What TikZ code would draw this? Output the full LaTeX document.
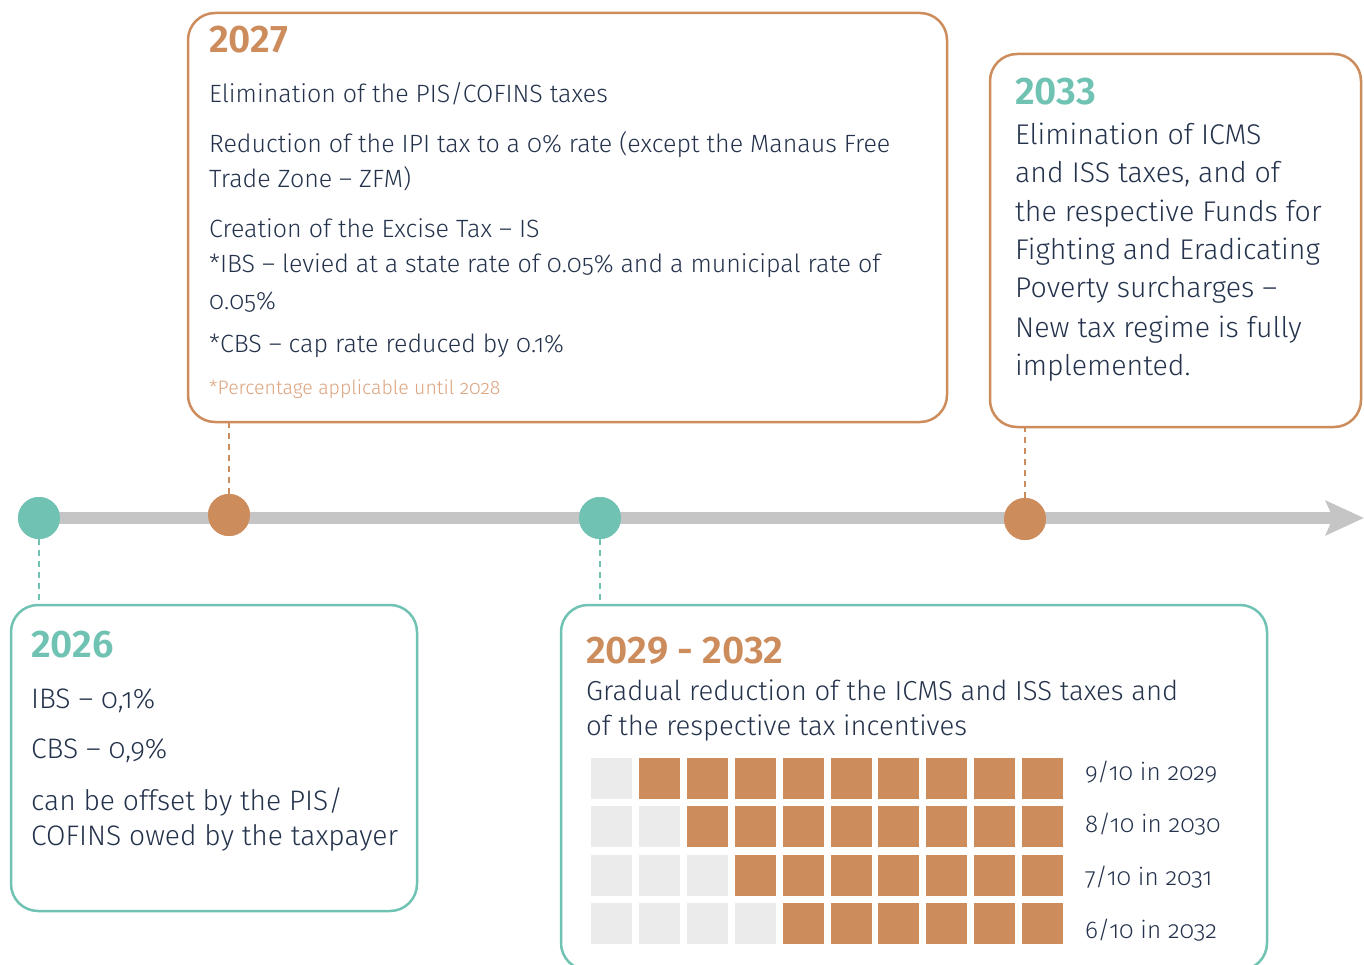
\documentclass[tikz,border=0pt]{standalone}
\usepackage{fontspec}
\setmainfont{Fira Sans Light}[BoldFont={Fira Sans SemiBold}, Numbers=OldStyle]
\newfontfamily\headfont{Fira Sans SemiBold}[Numbers=Lining]
\usetikzlibrary{arrows.meta}

\definecolor{accent}{RGB}{205,140,92}
\definecolor{teal}{RGB}{112,194,179}
\definecolor{ink}{RGB}{36,50,76}
\definecolor{rail}{RGB}{197,197,197}
\definecolor{blank}{RGB}{235,235,235}
\definecolor{note}{RGB}{221,164,126}

\tikzset{
  card/.style={draw=#1, line width=2.5pt, rounded corners=27pt, fill=white,
    inner sep=0pt, rectangle},
  dot/.style={circle, fill=#1, minimum size=42pt, inner sep=0pt},
  link/.style={draw=#1, line width=2.2pt, dash pattern=on 6pt off 5pt},
  year/.style={anchor=base west, inner sep=0pt, text=#1,
    font=\headfont\fontsize{38.5pt}{38.5pt}\selectfont},
  line/.style={anchor=base west, inner sep=0pt, text=ink,
    font=\fontsize{#1pt}{#1pt}\selectfont},
}

\begin{document}
\begin{tikzpicture}[x=1pt, y=-1pt]
\useasboundingbox (0,0) rectangle (1364,965);
\clip (0,0) rectangle (1364,965);

% timeline dots
\node[dot=teal]   (d2026) at (39,518)   {};
\node[dot=accent] (d2027) at (229,515)  {};
\node[dot=teal]   (d2029) at (600,518)  {};
\node[dot=accent] (d2033) at (1025,519) {};
\coordinate (tip) at (1364,518);

% cards
\node[card=accent, minimum width=759pt, minimum height=409pt] (b2027) at (567.5,217.5) {};
\node[card=accent, minimum width=371pt, minimum height=373pt] (b2033) at (1175.5,240.5) {};
\node[card=teal, minimum width=406pt, minimum height=306pt] (b2026) at (214,758) {};
\node[card=teal, minimum width=706pt, minimum height=365pt] (b2029) at (914,787.5) {};

% dashed leaders between cards and dots
\draw[link=teal]   (d2026) -- (d2026 |- b2026.north);
\draw[link=accent] (d2027) -- (d2027 |- b2027.south);
\draw[link=teal]   (d2029) -- (d2029 |- b2029.north);
\draw[link=accent] (d2033) -- (d2033 |- b2033.south);

% rail with arrow
\draw[rail, line width=12pt, -{Stealth[length=38pt, width=34pt, inset=7pt]}] (d2026.center) -- (tip);

% dots on top of the rail
\node[dot=teal]   at (d2026) {};
\node[dot=accent] at (d2027) {};
\node[dot=teal]   at (d2029) {};
\node[dot=accent] at (d2033) {};

% 2027
\node[year=accent] (y2027) at (209,53) {2027};
\node[line=25] (a1) at (209,103) {Elimination of the PIS/COFINS taxes};
\node[line=25] (a2) at (209,153) {Reduction of the IPI tax to a 0\% rate (except the Manaus Free};
\node[line=25] (a3) at (209,188) {Trade Zone – ZFM)};
\node[line=25] (a4) at (209,238) {Creation of the Excise Tax – IS};
\node[line=25] (a5) at (209,273) {*IBS – levied at a state rate of 0.05\% and a municipal rate of};
\node[line=25] (a6) at (209,309) {0.05\%};
\node[line=25] (a7) at (209,352) {*CBS – cap rate reduced by 0.1\%};
\node[line=19.5, text=note] (a8) at (209,394) {*Percentage applicable until 2028};

% 2033
\node[year=teal] (y2033) at (1015,105) {2033};
\node[line=28.5] (c1) at (1015,145) {Elimination of ICMS};
\node[line=28.5] (c2) at (1015,183) {and ISS taxes, and of};
\node[line=28.5] (c3) at (1015,222) {the respective Funds for};
\node[line=28.5] (c4) at (1015,260) {Fighting and Eradicating};
\node[line=28.5] (c5) at (1015,298) {Poverty surcharges –};
\node[line=28.5] (c6) at (1015,337) {New tax regime is fully};
\node[line=28.5] (c7) at (1015,375) {implemented.};

% 2026
\node[year=teal] (y2026) at (31,657) {2026};
\node[line=28.2] (e1) at (31,708) {IBS – 0,1\%};
\node[line=28.2] (e2) at (31,758) {CBS – 0,9\%};
\node[line=28.2] (e3) at (31,810) {can be offset by the PIS/};
\node[line=28.2] (e4) at (31,845) {COFINS owed by the taxpayer};

% 2029 - 2032
\node[year=accent] (y2029) at (586,663) {2029 - 2032};
\node[line=27.5] (g1) at (586,700) {Gradual reduction of the ICMS and ISS taxes and};
\node[line=27.5] (g2) at (586,735) {of the respective tax incentives};

% phase-out grid: row r keeps r+1 blank cells
\foreach \r in {0,...,3} {
  \foreach \c in {0,...,9} {
    \pgfmathtruncatemacro{\isblank}{\c<=\r ? 1 : 0}
    \ifnum\isblank=1 \def\cellcol{blank}\else\def\cellcol{accent}\fi
    \fill[\cellcol] ({591+47.9*\c},{758+48.3*\r}) rectangle ++(41,41);
  }
}
\node[line=24.3] (h1) at (1085,780) {9/10 in 2029};
\node[line=24.3] (h2) at (1085,832) {8/10 in 2030};
\node[line=24.3] (h3) at (1085,885) {7/10 in 2031};
\node[line=24.3] (h4) at (1085,938) {6/10 in 2032};
\end{tikzpicture}
\end{document}
